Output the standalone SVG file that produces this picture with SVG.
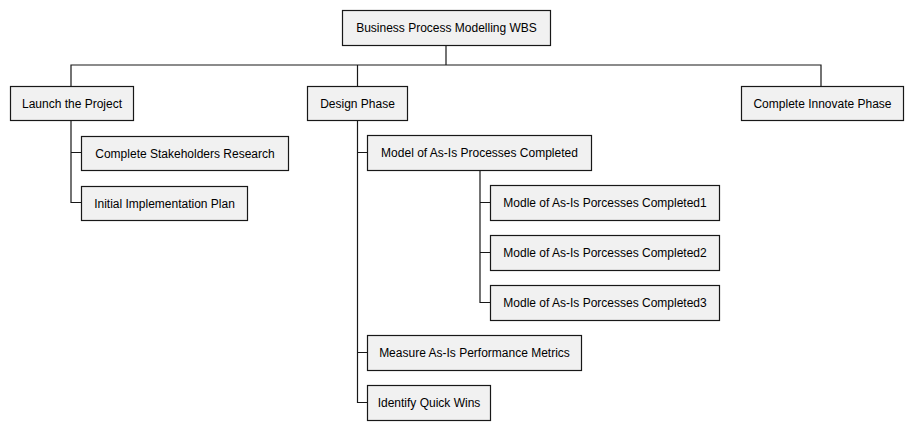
<svg xmlns="http://www.w3.org/2000/svg" width="912" height="430" viewBox="0 0 912 430">
<style>
.box{fill:#F1F1F1;stroke:#181818;stroke-width:1.2}
.lbl{font-family:"Liberation Sans",Arial,sans-serif;font-size:12px;fill:#000;text-anchor:middle}
.ln{fill:none;stroke:#181818;stroke-width:1.2}
</style>
<rect width="912" height="430" fill="#FFFFFF"/>
<g id="connectors">
<path class="ln" d="M446,45.5 V65 M71,86 V65 H821 V86 M357.5,65 V86"/>
<path class="ln" d="M71,120.5 V202.5 H81 M71,152.5 H81"/>
<path class="ln" d="M357.5,120.5 V402.5 H367 M357.5,152.5 H367 M357.5,352.5 H367"/>
<path class="ln" d="M480,170 V302.5 H490 M480,202.5 H490 M480,252.5 H490"/>
</g>
<g id="root"><rect class="box" x="342.5" y="10.5" width="208" height="35"/><text class="lbl" x="446.5" y="32">Business Process Modelling WBS</text></g>
<g id="launch"><rect class="box" x="10.5" y="86.5" width="123" height="34"/><text class="lbl" x="72" y="108">Launch the Project</text></g>
<g id="stakeholders"><rect class="box" x="81.5" y="136.5" width="207" height="34"/><text class="lbl" x="185" y="158">Complete Stakeholders Research</text></g>
<g id="initial"><rect class="box" x="81.5" y="186.5" width="166" height="34"/><text class="lbl" x="164.5" y="208">Initial Implementation Plan</text></g>
<g id="design"><rect class="box" x="307.5" y="86.5" width="100" height="34"/><text class="lbl" x="357.5" y="108">Design Phase</text></g>
<g id="model"><rect class="box" x="367.5" y="135.5" width="224" height="35"/><text class="lbl" x="479.5" y="157">Model of As-Is Processes Completed</text></g>
<g id="modle1"><rect class="box" x="490.5" y="185.5" width="229" height="35"/><text class="lbl" x="605" y="207">Modle of As-Is Porcesses Completed1</text></g>
<g id="modle2"><rect class="box" x="490.5" y="235.5" width="229" height="35"/><text class="lbl" x="605" y="257">Modle of As-Is Porcesses Completed2</text></g>
<g id="modle3"><rect class="box" x="490.5" y="285.5" width="229" height="35"/><text class="lbl" x="605" y="307">Modle of As-Is Porcesses Completed3</text></g>
<g id="measure"><rect class="box" x="367.5" y="335.5" width="214" height="35"/><text class="lbl" x="474.5" y="357">Measure As-Is Performance Metrics</text></g>
<g id="quickwins"><rect class="box" x="367.5" y="385.5" width="123" height="35"/><text class="lbl" x="429" y="407">Identify Quick Wins</text></g>
<g id="innovate"><rect class="box" x="741.5" y="86.5" width="162" height="34"/><text class="lbl" x="822.5" y="108">Complete Innovate Phase</text></g>
</svg>
